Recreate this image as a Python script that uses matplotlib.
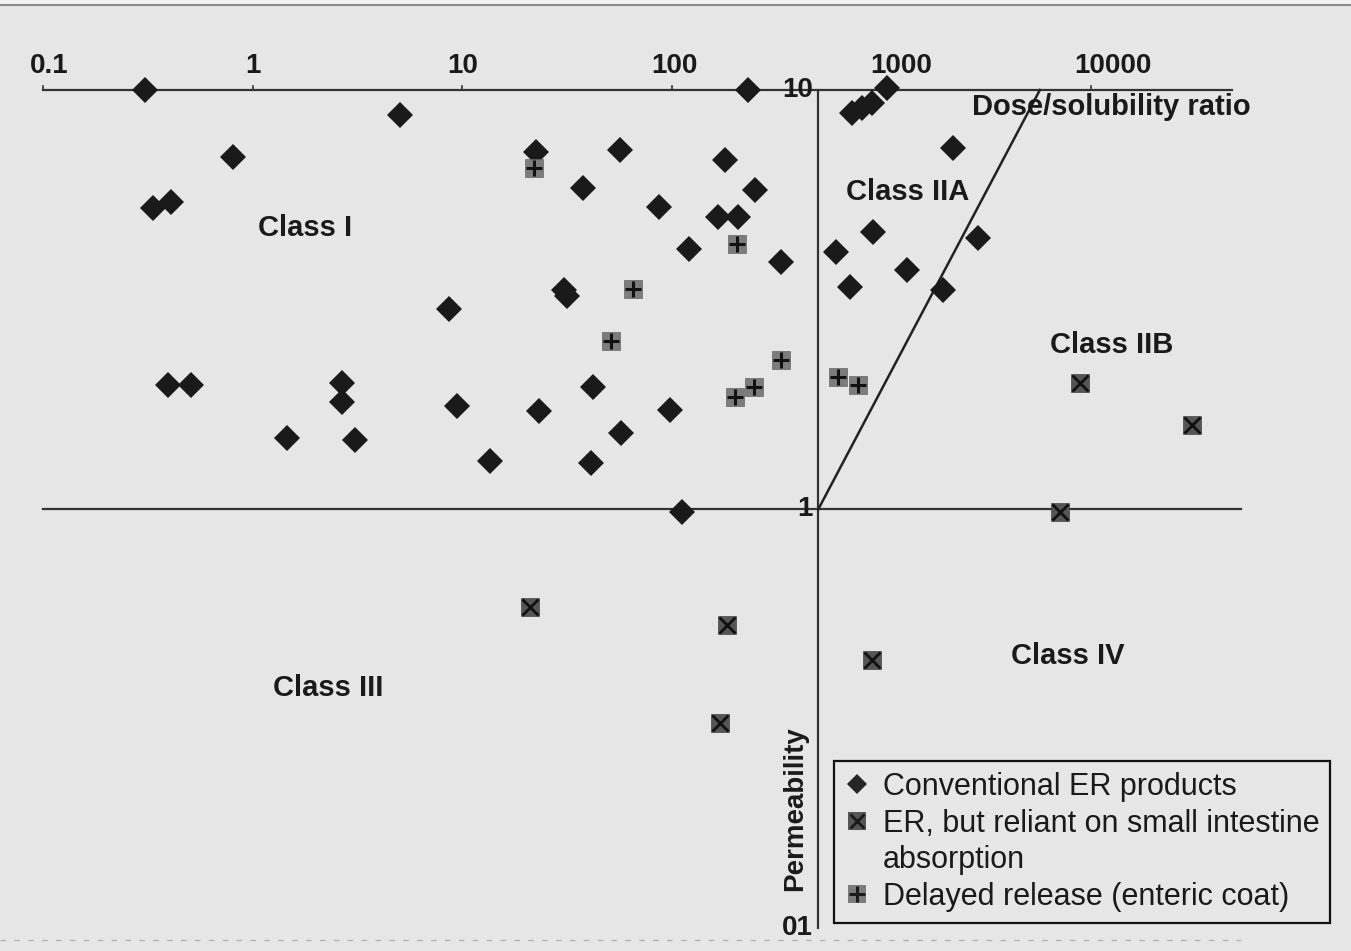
import matplotlib
matplotlib.use("Agg")
import matplotlib.pyplot as plt
import matplotlib.transforms as mtransforms
from matplotlib.lines import Line2D

# conventional extended-release products (dose/solubility ratio, permeability)
conv_x = [0.305, 230, 5.03, 0.80, 0.333, 0.406, 22.4, 56.5, 37.6, 86.7,
          179, 249, 166, 207, 120, 331, 30.5, 31.5, 8.62, 0.393,
          0.506, 2.66, 2.66, 9.42, 1.45, 3.07, 23.2, 42.0, 97.8, 57.1,
          13.5, 41.0, 112,
          723, 807, 901, 1062, 2194, 911, 606, 1324, 707, 2890, 1967]
conv_y = [10.0, 10.0, 8.71, 6.92, 5.22, 5.41, 7.11, 7.19, 5.84, 5.26,
          6.81, 5.77, 4.98, 4.98, 4.18, 3.88, 3.33, 3.22, 3.00, 1.98,
          1.98, 2.00, 1.80, 1.76, 1.48, 1.46, 1.71, 1.95, 1.72, 1.52,
          1.30, 1.29, 0.985,
          8.81, 9.06, 9.31, 10.1, 7.28, 4.58, 4.10, 3.72, 3.39, 4.44, 3.33]

# ER products that rely on small intestine absorption
si_x = [8860, 30300, 7110, 21.0, 183, 901, 169]
si_y = [2.00, 1.59, 0.985, 0.583, 0.529, 0.436, 0.308]

# delayed release (enteric coated)
dr_x = [21.9, 204, 65.2, 51.2, 331, 246, 200, 620, 773]
dr_y = [6.52, 4.29, 3.35, 2.52, 2.27, 1.95, 1.85, 2.06, 1.98]

x_ticks = [0.1, 1, 10, 100, 1000, 10000]
x_tick_labels = ["0.1", "1", "10", "100", "1000", "10000"]
y_ticks = [10, 1, 0.1]
y_tick_labels = ["10", "1", "01"]

classes = ["Class I", "Class IIA", "Class IIB", "Class III", "Class IV"]
class_x = [1.77, 1337, 12600, 2.28, 7770]
class_y = [4.69, 5.71, 2.46, 0.374, 0.446]

bg = "#e6e6e6"
ink = "#1a1a1a"
plt.rcParams["font.family"] = ["Liberation Sans", "DejaVu Sans"]

fig = plt.figure(figsize=(13.51, 9.51), dpi=100, facecolor=bg)
ax = fig.add_axes([0, 0, 1, 1], facecolor=bg)
ax.set_xscale("log")
ax.set_yscale("log")
ax.set_xlim(0.062, 174200)
ax.set_ylim(0.0881, 16.4)
ax.axis("off")

# page edge at the very top
fig.patches.append(plt.Rectangle((0, 1 - 4 / 951), 1, 4 / 951, transform=fig.transFigure,
                                 facecolor="#f4f4f4", edgecolor="none"))
fig.lines.append(Line2D([0, 1], [1 - 4.5 / 951] * 2, transform=fig.transFigure,
                        color="#8a8a8a", lw=1.5))

# axis lines: top scale at P=10, horizontal at P=1, vertical at D/S=500
ax.plot([0.1, 47000], [10, 10], color="#333333", lw=1.6)
ax.plot([0.1, 52000], [1, 1], color="#333333", lw=1.6)
ax.plot([500, 500], [0.1, 10], color="#333333", lw=1.6)
ax.plot([500, 5700], [1, 10], color="#222222", lw=1.8)
ax.plot([0.062, 52000], [0.0936, 0.0936], color="#555555", lw=1.0,
        ls=(0, (4, 6)), alpha=0.35)

# small tick marks on the top scale
for t in x_ticks:
    ax.plot([t, t], [10, 10.25], color="#333333", lw=1.2)

shift = [6, 0, 0, 2, 20, 22]
for t, lab, dx in zip(x_ticks, x_tick_labels, shift):
    tr = ax.transData + mtransforms.ScaledTranslation(dx / 100, 0, fig.dpi_scale_trans)
    ax.text(t, 11.0, lab, transform=tr, ha="center", va="baseline",
            fontsize=20, fontweight="bold", color=ink)

for t, lab in zip(y_ticks, y_tick_labels):
    ax.text(470, t, lab, ha="right", va="center", fontsize=20,
            fontweight="bold", color=ink)

ax.text(387, 0.193, "Permeability", rotation=90, ha="center", va="center",
        fontsize=20, fontweight="bold", color=ink)
ax.text(12450, 9.11, "Dose/solubility ratio", ha="center", va="center",
        fontsize=21, fontweight="bold", color=ink)

for name, cx, cy in zip(classes, class_x, class_y):
    ax.text(cx, cy, name, ha="center", va="center", fontsize=21,
            fontweight="bold", color=ink)

# data points
ax.plot(conv_x, conv_y, ls="none", marker="D", ms=13.5, mfc=ink, mec=ink, mew=0)
ax.plot(si_x, si_y, ls="none", marker="s", ms=13.5, mfc="#555555", mec="#444444", mew=0.5)
ax.plot(si_x, si_y, ls="none", marker="x", ms=11, mec="#111111", mew=2)
ax.plot(dr_x, dr_y, ls="none", marker="s", ms=13.5, mfc="#7c7c7c", mec="#666666", mew=0.5)
ax.plot(dr_x, dr_y, ls="none", marker="+", ms=12, mec="#111111", mew=2.2)

# legend (second entry wraps onto a line with no marker)
h_conv = Line2D([], [], ls="none", marker="D", ms=10, mfc="#262626", mew=0)
h_si = (Line2D([], [], ls="none", marker="s", ms=13, mfc="#555555", mew=0),
        Line2D([], [], ls="none", marker="x", ms=10, mec="#1a1a1a", mew=2))
h_blank = Line2D([], [], ls="none")
h_dr = (Line2D([], [], ls="none", marker="s", ms=13, mfc="#7c7c7c", mew=0),
        Line2D([], [], ls="none", marker="+", ms=11, mec="#1a1a1a", mew=2.2))
leg = fig.legend([h_conv, h_si, h_blank, h_dr],
                 ["Conventional ER products",
                  "ER, but reliant on small intestine",
                  "absorption",
                  "Delayed release (enteric coat)"],
                 loc="upper left", bbox_to_anchor=(0.6175, 0.1995),
                 fontsize=22, frameon=True, fancybox=False, framealpha=1,
                 facecolor=bg, edgecolor="#111111", handlelength=0.8,
                 handletextpad=0.45, labelspacing=0.22, borderpad=0.35,
                 borderaxespad=0)
leg.get_frame().set_linewidth(1.6)
for txt in leg.get_texts():
    txt.set_color(ink)

fig.savefig("out.png", dpi=100, facecolor=bg)
